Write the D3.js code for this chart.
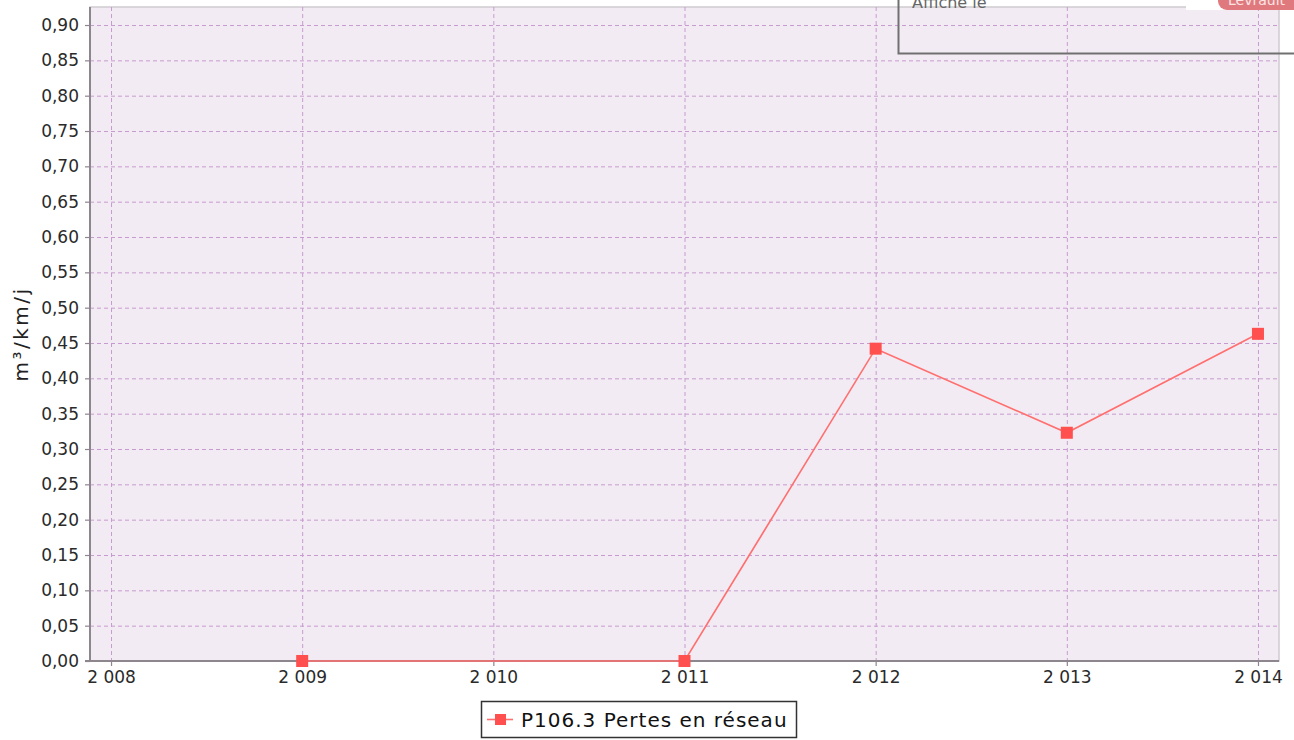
<!DOCTYPE html>
<html><head><meta charset="utf-8">
<script src="https://cdn.jsdelivr.net/npm/d3@7"></script>
<style>body{margin:0;background:#fff}svg{display:block}text{font-family:"DejaVu Sans",sans-serif}</style>
</head><body><svg id="c" width="1294" height="740"></svg>
<script>
const years = [2009, 2011, 2012, 2013, 2014];
const values = [0, 0, 0.442, 0.323, 0.463];
const yTicks = [0,0.05,0.10,0.15,0.20,0.25,0.30,0.35,0.40,0.45,0.50,0.55,0.60,0.65,0.70,0.75,0.80,0.85,0.90];
const xTicks = [2008, 2009, 2010, 2011, 2012, 2013, 2014];
const seriesName = "P106.3 Pertes en réseau";
const yLabel = "m³/km/j";

const svg = d3.select("#c");
const L = 90, R = 1279, T = 7, B = 661;
const x = d3.scaleLinear().domain([2007.89, 2014.11]).range([L, R]);
const y = d3.scaleLinear().domain([0, 0.9255]).range([B, T]);
const fmtY = v => v.toFixed(2).replace(".", ",");
const fmtX = v => { const s = String(v); return s[0] + " " + s.slice(1); };

svg.append("rect").attr("x", L).attr("y", T).attr("width", R - L).attr("height", B - T)
  .attr("fill", "#f2ebf3").attr("stroke", "#cfcbcf").attr("stroke-width", 1.5);

const grid = svg.append("g").attr("stroke", "#c79bcf").attr("stroke-width", 1).attr("stroke-dasharray", "4,3");
grid.selectAll(".h").data(yTicks.filter(v => v > 0)).join("line")
  .attr("x1", L).attr("x2", R).attr("y1", d => y(d) + 0.5).attr("y2", d => y(d) + 0.5);
grid.selectAll(".v").data(xTicks).join("line")
  .attr("y1", T).attr("y2", B).attr("x1", d => x(d) + 0.5).attr("x2", d => x(d) + 0.5);

const yAxis = svg.append("g").attr("transform", `translate(${L},0)`)
  .call(d3.axisLeft(y).tickValues(yTicks).tickFormat(fmtY).tickSize(5).tickPadding(6));
const xAxis = svg.append("g").attr("transform", `translate(0,${B})`)
  .call(d3.axisBottom(x).tickValues(xTicks).tickFormat(fmtX).tickSize(5).tickPadding(5));
[yAxis, xAxis].forEach(a => {
  a.select(".domain").attr("stroke", "#8d868d").attr("stroke-width", 2);
  a.selectAll(".tick line").attr("stroke", "#8d868d").attr("stroke-width", 1.2);
  a.selectAll(".tick text").attr("fill", "#2a2a2a").attr("font-size", 17).attr("font-family", "DejaVu Sans");
});
yAxis.select(".domain").attr("d", `M-5,${B}H0V${T}`);
xAxis.select(".domain").attr("d", `M${L},0H${R}`);

svg.append("text").attr("transform", "translate(28,334) rotate(-90)")
  .attr("text-anchor", "middle").attr("font-size", 20).attr("letter-spacing", 2.5)
  .attr("fill", "#222").text(yLabel);

const pts = years.map((yr, i) => [yr, values[i]]);
svg.append("path").datum(pts)
  .attr("d", d3.line().x(d => x(d[0])).y(d => y(d[1])))
  .attr("fill", "none").attr("stroke", "#ff6f6f").attr("stroke-width", 1.6);
svg.selectAll(".m").data(pts).join("rect")
  .attr("x", d => x(d[0]) - 6).attr("y", d => y(d[1]) - 6)
  .attr("width", 12).attr("height", 12).attr("fill", "#ff4f4f");

// legend
const lg = svg.append("g");
lg.append("rect").attr("x", 481.5).attr("y", 701.5).attr("width", 315).attr("height", 36)
  .attr("fill", "#fff").attr("stroke", "#333").attr("stroke-width", 1.5);
lg.append("line").attr("x1", 487).attr("x2", 513).attr("y1", 719.5).attr("y2", 719.5)
  .attr("stroke", "#ff6f6f").attr("stroke-width", 1.6);
lg.append("rect").attr("x", 495).attr("y", 714).attr("width", 11).attr("height", 11).attr("fill", "#ff4f4f");
lg.append("text").attr("x", 521).attr("y", 727).attr("font-size", 20).attr("letter-spacing", 1)
  .attr("fill", "#111").text(seriesName);

// top-right overlay
svg.append("rect").attr("x", 1186).attr("y", 0).attr("width", 108).attr("height", 10).attr("fill", "#fff");
svg.append("rect").attr("x", 898.5).attr("y", -20).attr("width", 420).attr("height", 73.5)
  .attr("fill", "none").attr("stroke", "#707070").attr("stroke-width", 2);
svg.append("text").attr("x", 912).attr("y", 8).attr("font-size", 16).attr("fill", "#666")
  .attr("font-family", "Liberation Sans").text("Affiché le");
svg.append("rect").attr("x", 1218).attr("y", -12).attr("width", 90).attr("height", 22).attr("rx", 9).attr("fill", "#e0797d");
svg.append("text").attr("x", 1228).attr("y", 5).attr("font-size", 14).attr("fill", "#fbe4e4")
  .attr("font-family", "Liberation Sans").text("Levrault");
</script></body></html>
